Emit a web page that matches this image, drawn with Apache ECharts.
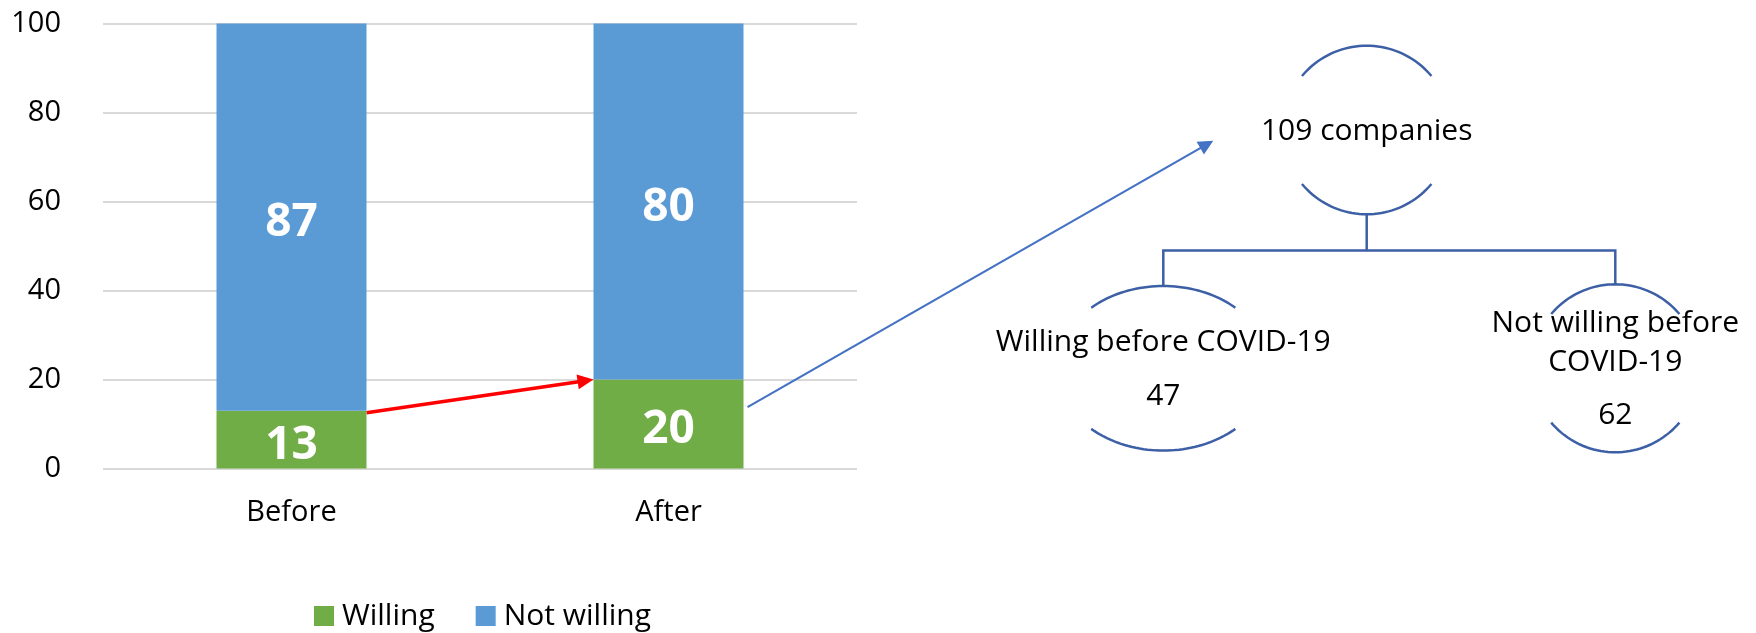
<!DOCTYPE html>
<html>
<head>
<meta charset="utf-8">
<script src="https://cdn.jsdelivr.net/npm/echarts@6/dist/echarts.min.js"></script>
<style>html,body{margin:0;padding:0;background:#fff}#main{width:1756px;height:633px}</style>
</head>
<body>
<div id="main"></div>
<script>
var categories = ['Before', 'After'];
var willing = [13, 20];
var notWilling = [87, 80];
var yTicks = [0, 20, 40, 60, 80, 100];
var totalLabel = '109 companies';
var branchNames = ['Willing before COVID-19', 'Not willing before\nCOVID-19'];
var branchValues = [47, 62];

var myChart = echarts.init(document.getElementById('main'));
var barW = 150;
var font = 'Open Sans';

var option = {
    animation: false,
    textStyle: { fontFamily: font },
    legend: {
        data: ['Willing', 'Not willing'],
        left: 314,
        top: 601,
        padding: 0,
        icon: 'rect',
        itemWidth: 20,
        itemHeight: 20,
        itemGap: 41,
        textStyle: { fontSize: 30, color: '#000', padding: [0, 0, 0, 3] }
    },
    grid: { left: 103, right: 899, top: 23.5, bottom: 164.5 },
    xAxis: {
        type: 'category',
        data: categories,
        axisLine: { show: false },
        axisTick: { show: false },
        axisLabel: { fontSize: 29, color: '#000', margin: 30 }
    },
    yAxis: {
        type: 'value',
        min: yTicks[0],
        max: yTicks[yTicks.length - 1],
        interval: yTicks[1] - yTicks[0],
        axisLabel: { fontSize: 29, color: '#000', margin: 42 },
        splitLine: { lineStyle: { color: '#d9d9d9', width: 2 } }
    },
    series: [
        {
            name: 'Willing',
            type: 'bar',
            stack: 'total',
            barWidth: barW,
            data: willing,
            itemStyle: { color: '#70AD47' },
            label: { show: true, position: 'inside', color: '#fff', fontSize: 46, fontWeight: 'bold', offset: [0, 6] }
        },
        {
            name: 'Not willing',
            type: 'bar',
            stack: 'total',
            barWidth: barW,
            data: notWilling,
            itemStyle: { color: '#5B9BD5' },
            label: { show: true, position: 'inside', color: '#fff', fontSize: 46, fontWeight: 'bold', offset: [0, 6] }
        }
    ]
};
myChart.setOption(option);

var treeColor = '#3C5FA6';

// arrow helper: line plus filled head
function arrow(from, to, color, width, headLen, headHalf) {
    var dx = to[0] - from[0], dy = to[1] - from[1];
    var len = Math.sqrt(dx * dx + dy * dy);
    var ux = dx / len, uy = dy / len;
    var bx = to[0] - ux * headLen, by = to[1] - uy * headLen;
    return [
        { type: 'line', shape: { x1: from[0], y1: from[1], x2: bx + ux, y2: by + uy }, style: { stroke: color, lineWidth: width } },
        { type: 'polygon', shape: { points: [to, [bx - uy * headHalf, by + ux * headHalf], [bx + uy * headHalf, by - ux * headHalf]] }, style: { fill: color } }
    ];
}

// ellipse shown only as its top and bottom arcs
function node(n) {
    var t0 = Math.asin(n.dy / n.ry);
    var up = [], down = [];
    for (var i = 0; i <= 40; i++) {
        var t = t0 + (Math.PI - 2 * t0) * i / 40;
        up.push([n.x + n.rx * Math.cos(t), n.y - n.ry * Math.sin(t)]);
        down.push([n.x + n.rx * Math.cos(t), n.y + n.ry * Math.sin(t)]);
    }
    return [
        { type: 'polyline', shape: { points: up }, style: { fill: null, stroke: treeColor, lineWidth: 2.5 } },
        { type: 'polyline', shape: { points: down }, style: { fill: null, stroke: treeColor, lineWidth: 2.5 } }
    ];
}

function label(text, x, y) {
    return {
        type: 'text', x: x, y: y,
        style: { text: text, fontSize: 30, fontFamily: font, fill: '#000', align: 'center', verticalAlign: 'middle', lineHeight: 39 }
    };
}

var half = barW / 2;
var a0 = myChart.convertToPixel({ seriesIndex: 0 }, [0, willing[0]]);
var a1 = myChart.convertToPixel({ seriesIndex: 0 }, [1, willing[1]]);
var b1 = myChart.convertToPixel({ seriesIndex: 0 }, [1, 13.8]);

var nodeTop = { x: 1366.7, y: 130, rx: 84.3, ry: 84.3, dy: 54 };
var nodeLeft = { x: 1163.3, y: 368.3, rx: 106.5, ry: 82.3, dy: 60.6 };
var nodeRight = { x: 1615.3, y: 368.3, rx: 84, ry: 84, dy: 54.3 };
var busY = 250.5;

var g = [];
g = g.concat(arrow([a0[0] + half, a0[1] + 2], [a1[0] - half, a1[1]], '#FF0000', 3.5, 16, 7.5));
g = g.concat(arrow([b1[0] + half + 4, b1[1]], [1213.3, 140.7], '#4472C4', 2.2, 15, 7.4));
g = g.concat(node(nodeTop), node(nodeLeft), node(nodeRight));
g.push({ type: 'polyline', shape: { points: [[nodeTop.x, nodeTop.y + nodeTop.ry], [nodeTop.x, busY]] }, style: { stroke: treeColor, lineWidth: 2.5, fill: null } });
g.push({ type: 'polyline', shape: { points: [[nodeLeft.x, nodeLeft.y - nodeLeft.ry], [nodeLeft.x, busY], [nodeRight.x, busY], [nodeRight.x, nodeRight.y - nodeRight.ry]] }, style: { stroke: treeColor, lineWidth: 2.5, fill: null } });
g.push(label(totalLabel, nodeTop.x, 131));
g.push(label(branchNames[0], nodeLeft.x, 342));
g.push(label(String(branchValues[0]), nodeLeft.x, 396));
g.push(label(branchNames[1], nodeRight.x, 342.5));
g.push(label(String(branchValues[1]), nodeRight.x, 415.5));

myChart.setOption({ graphic: g });
</script>
</body>
</html>
